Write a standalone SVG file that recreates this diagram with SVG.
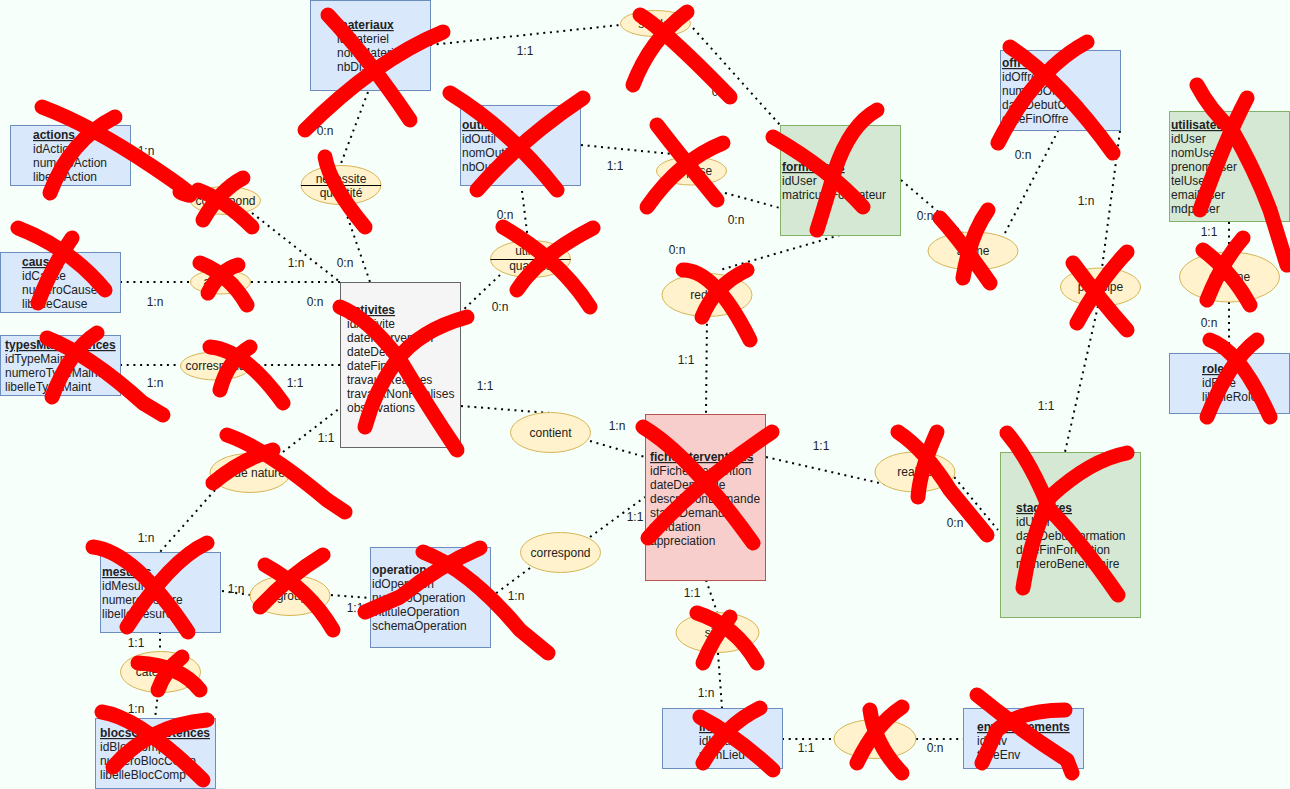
<svg xmlns="http://www.w3.org/2000/svg" width="1290" height="789" viewBox="0 0 1290 789">
<style>
.b{fill:#dae8fc;stroke:#6c8ebf;stroke-width:1}
.g{fill:#d5e8d4;stroke:#82b366;stroke-width:1}
.r{fill:#f8cecc;stroke:#b85450;stroke-width:1}
.k{fill:#f5f5f5;stroke:#666666;stroke-width:1}
.rel{fill:#fff2cc;stroke:#d6b656;stroke-width:1}
.c{stroke:#000;stroke-width:2;stroke-dasharray:2 4.7;fill:none}
text{font-family:"Liberation Sans",Arial,sans-serif;font-size:12px;fill:#222}
.tt{font-weight:bold;text-decoration:underline}
.tb{font-weight:bold}
.m{text-anchor:middle}
.x{stroke:#ff0000;stroke-width:15;fill:none;stroke-linecap:round;stroke-linejoin:round}
</style>
<rect width="1290" height="789" fill="#f6fffa"/>
<g id="connectors">
<path class="c" d="M430,45 L620,25"/>
<path class="c" d="M693,28 L780,125"/>
<path class="c" d="M368,92 L340,166"/>
<path class="c" d="M343,204 L370,282"/>
<path class="c" d="M131,152 L189,199"/>
<path class="c" d="M252,213 L340,282"/>
<path class="c" d="M120,282 L190,282"/>
<path class="c" d="M251,282 L340,282"/>
<path class="c" d="M120,365 L180,365"/>
<path class="c" d="M251,365 L340,365"/>
<path class="c" d="M283,452 L340,408"/>
<path class="c" d="M215,490 L160,552"/>
<path class="c" d="M522,191 L528,240"/>
<path class="c" d="M500,275 L461,312"/>
<path class="c" d="M581,145 L672,154"/>
<path class="c" d="M725,193 L780,208"/>
<path class="c" d="M840,235 L720,270"/>
<path class="c" d="M707,317 L706,414"/>
<path class="c" d="M461,406 L550,413"/>
<path class="c" d="M590,441 L645,457"/>
<path class="c" d="M590,537 L645,497"/>
<path class="c" d="M530,568 L491,597"/>
<path class="c" d="M222,591 L250,595"/>
<path class="c" d="M331,595 L370,598"/>
<path class="c" d="M160,632 L160,652"/>
<path class="c" d="M158,693 L155,719"/>
<path class="c" d="M706,580 L717,612"/>
<path class="c" d="M718,653 L722,708"/>
<path class="c" d="M782,739 L834,739"/>
<path class="c" d="M916,739 L963,739"/>
<path class="c" d="M901,180 L963,233"/>
<path class="c" d="M1005,233 L1058,131"/>
<path class="c" d="M1120,131 L1102,268"/>
<path class="c" d="M1098,306 L1065,452"/>
<path class="c" d="M766,457 L910,490"/>
<path class="c" d="M950,472 L998,530"/>
<path class="c" d="M1229,222 L1229,252"/>
<path class="c" d="M1229,302 L1229,353"/>
</g>
<g id="relations">
<g id="r-stocke"><ellipse class="rel" cx="655.5" cy="23.5" rx="35" ry="13"/><text class="m" x="655.5" y="27.5">stocke</text></g>
<g id="r-necessite"><ellipse class="rel" cx="341" cy="185" rx="40" ry="19.5"/><line x1="301" y1="185.5" x2="381" y2="185.5" stroke="#000"/><text class="m" x="341" y="183">necessite</text><text class="m" x="341" y="197">quantité</text></g>
<g id="r-correspond1"><ellipse class="rel" cx="225.5" cy="200.5" rx="35" ry="14"/><text class="m" x="225.5" y="204.5">correspond</text></g>
<g id="r-apour"><ellipse class="rel" cx="220.5" cy="282" rx="30" ry="12"/><text class="m" x="220.5" y="286">a pour</text></g>
<g id="r-correspond2"><ellipse class="rel" cx="215.5" cy="366" rx="35" ry="14"/><text class="m" x="215.5" y="370">correspond</text></g>
<g id="r-nature"><ellipse class="rel" cx="250" cy="473" rx="40" ry="19.5"/><text class="m" x="250" y="477">est de nature</text></g>
<g id="r-utilise"><ellipse class="rel" cx="530.5" cy="259" rx="40" ry="18.5"/><line x1="490.5" y1="259.5" x2="570.5" y2="259.5" stroke="#000"/><text class="m" x="530.5" y="255">utilise</text><text class="m" x="530.5" y="270">quantité</text></g>
<g id="r-dispose"><ellipse class="rel" cx="691.5" cy="171" rx="35" ry="14"/><text class="m" x="691.5" y="175">dispose</text></g>
<g id="r-redige"><ellipse class="rel" cx="707" cy="295" rx="45" ry="21.5"/><text class="m" x="707" y="299">redige</text></g>
<g id="r-contient"><ellipse class="rel" cx="550.5" cy="432.5" rx="40" ry="20"/><text class="m" x="550.5" y="436.5">contient</text></g>
<g id="r-correspond3"><ellipse class="rel" cx="560.5" cy="552.5" rx="40" ry="20"/><text class="m" x="560.5" y="556.5">correspond</text></g>
<g id="r-regroupe"><ellipse class="rel" cx="290" cy="595.5" rx="40" ry="20"/><text class="m" x="290" y="599.5">regroupe</text></g>
<g id="r-categorie"><ellipse class="rel" cx="160.5" cy="672" rx="40" ry="20.5"/><text class="m" x="160.5" y="676">categorie</text></g>
<g id="r-situe"><ellipse class="rel" cx="717.5" cy="632.5" rx="41.5" ry="20"/><text class="m" x="717.5" y="636.5">situe</text></g>
<g id="r-lieuenv"><ellipse class="rel" cx="875" cy="739" rx="41" ry="19.5"/></g>
<g id="r-anime"><ellipse class="rel" cx="973" cy="251" rx="45" ry="19"/><text class="m" x="973" y="255">anime</text></g>
<g id="r-participe"><ellipse class="rel" cx="1100.5" cy="287" rx="40" ry="19"/><text class="m" x="1100.5" y="291">participe</text></g>
<g id="r-realise"><ellipse class="rel" cx="915" cy="472" rx="40" ry="20"/><text class="m" x="915" y="476">realise</text></g>
<g id="r-assigne"><ellipse class="rel" cx="1229.5" cy="277" rx="50" ry="25"/><text class="m" x="1229.5" y="281">assigne</text></g>
</g>
<g id="e-materiaux"><rect class="b" x="310.5" y="0.5" width="120" height="90"/><text x="337" y="29" class="tt">materiaux</text><text x="337" y="43">idMateriel</text><text x="337" y="57">nomMateriel</text><text x="337" y="71">nbDispo</text></g>
<g id="e-actions"><rect class="b" x="10.5" y="125.5" width="120" height="60"/><text x="33" y="139" class="tt">actions</text><text x="33" y="153">idAction</text><text x="33" y="167">numeroAction</text><text x="33" y="181">libelleAction</text></g>
<g id="e-causes"><rect class="b" x="0.5" y="252.5" width="120" height="60"/><text x="22" y="266" class="tt">causes</text><text x="22" y="280">idCause</text><text x="22" y="294">numeroCause</text><text x="22" y="308">libelleCause</text></g>
<g id="e-types"><rect class="b" x="0.5" y="335.5" width="120" height="60"/><text x="5" y="349" class="tt">typesMaintenances</text><text x="5" y="363">idTypeMaint</text><text x="5" y="377">numeroTypeMaint</text><text x="5" y="391">libelleTypeMaint</text></g>
<g id="e-outils"><rect class="b" x="460.5" y="105.5" width="120" height="80"/><text x="462" y="129" class="tt">outils</text><text x="462" y="143">idOutil</text><text x="462" y="157">nomOutil</text><text x="462" y="171">nbOutil</text></g>
<g id="e-formateurs"><rect class="g" x="780.5" y="125.5" width="120" height="110"/><text x="782" y="171" class="tt">formateurs</text><text x="782" y="185">idUser</text><text x="782" y="199">matriculeFormateur</text></g>
<g id="e-offres"><rect class="b" x="1000.5" y="50.5" width="120" height="80"/><text x="1002" y="67" class="tt">offres</text><text x="1002" y="81">idOffre</text><text x="1002" y="95">numeroOffre</text><text x="1002" y="109">dateDebutOffre</text><text x="1002" y="123">dateFinOffre</text></g>
<g id="e-utilisateurs"><rect class="g" x="1169.5" y="111.5" width="120" height="110"/><text x="1171" y="129" class="tt">utilisateurs</text><text x="1171" y="143">idUser</text><text x="1171" y="157">nomUser</text><text x="1171" y="171">prenomUser</text><text x="1171" y="185">telUser</text><text x="1171" y="199">emailUser</text><text x="1171" y="213">mdpUser</text></g>
<g id="e-roles"><rect class="b" x="1169.5" y="353.5" width="120" height="60"/><text x="1202" y="373" class="tt">roles</text><text x="1202" y="387">idRole</text><text x="1202" y="401">libelleRole</text></g>
<g id="e-activites"><rect class="k" x="340.5" y="282.5" width="120" height="165"/><text x="347" y="314" class="tt">activites</text><text x="347" y="328">idActivite</text><text x="347" y="342">dateIntervention</text><text x="347" y="356">dateDebut</text><text x="347" y="370">dateFin</text><text x="347" y="384">travauxRealises</text><text x="347" y="398">travauxNonRealises</text><text x="347" y="412">observations</text></g>
<g id="e-fiche"><rect class="r" x="645.5" y="414.5" width="120" height="166"/><text x="650" y="461" class="tt">ficheInterventions</text><text x="650" y="475">idFicheIntervention</text><text x="650" y="489">dateDemande</text><text x="650" y="503">descriptionDemande</text><text x="650" y="517">statutDemande</text><text x="650" y="531">validation</text><text x="650" y="545">appreciation</text></g>
<g id="e-stagiaires"><rect class="g" x="1000.5" y="452.5" width="140" height="165"/><text x="1016" y="512" class="tt">stagiaires</text><text x="1016" y="526">idUser</text><text x="1016" y="540">dateDebutFormation</text><text x="1016" y="554">dateFinFormation</text><text x="1016" y="568">numeroBeneficiaire</text></g>
<g id="e-mesures"><rect class="b" x="100.5" y="552.5" width="120" height="80"/><text x="102" y="576" class="tt">mesures</text><text x="102" y="590">idMesure</text><text x="102" y="604">numeroMesure</text><text x="102" y="618">libelleMesure</text></g>
<g id="e-blocs"><rect class="b" x="95.5" y="718.5" width="120" height="70"/><text x="100" y="737" class="tt">blocsCompetences</text><text x="100" y="751">idBlocComp</text><text x="100" y="765">numeroBlocComp</text><text x="100" y="779">libelleBlocComp</text></g>
<g id="e-operations"><rect class="b" x="370.5" y="547.5" width="120" height="100"/><text x="372" y="574" class="tb">operations</text><text x="372" y="588">idOperation</text><text x="372" y="602">numeroOperation</text><text x="372" y="616">intituleOperation</text><text x="372" y="630">schemaOperation</text></g>
<g id="e-lieux"><rect class="b" x="662.5" y="708.5" width="120" height="60"/><text x="699" y="731" class="tt">lieux</text><text x="699" y="745">idLieu</text><text x="699" y="759">nomLieu</text></g>
<g id="e-environnements"><rect class="b" x="963.5" y="708.5" width="120" height="60"/><text x="977" y="731" class="tt">environnements</text><text x="977" y="745">idEnv</text><text x="977" y="759">typeEnv</text></g>
<g id="cardinalities">
<text class="m" x="525" y="55">1:1</text><text class="m" x="720" y="96">0:n</text>
<text class="m" x="325" y="135">0:n</text><text class="m" x="345" y="267">0:n</text>
<text class="m" x="146" y="155">1:n</text><text class="m" x="296" y="267">1:n</text>
<text class="m" x="155" y="306">1:n</text><text class="m" x="315" y="306">0:n</text>
<text class="m" x="155" y="387">1:n</text><text class="m" x="295" y="387">1:1</text>
<text class="m" x="326" y="442">1:1</text><text class="m" x="146" y="542">1:n</text>
<text class="m" x="505" y="219">0:n</text><text class="m" x="500" y="311">0:n</text>
<text class="m" x="615" y="170">1:1</text><text class="m" x="736" y="224">0:n</text>
<text class="m" x="677" y="254">0:n</text><text class="m" x="686" y="364">1:1</text>
<text class="m" x="485" y="390">1:1</text><text class="m" x="617" y="430">1:n</text>
<text class="m" x="635" y="521">1:1</text><text class="m" x="516" y="600">1:n</text>
<text class="m" x="236" y="593">1:n</text><text class="m" x="355" y="612">1:1</text>
<text class="m" x="136" y="647">1:1</text><text class="m" x="136" y="713">1:n</text>
<text class="m" x="692" y="597">1:1</text><text class="m" x="706" y="697">1:n</text>
<text class="m" x="806" y="752">1:1</text><text class="m" x="935" y="752">0:n</text>
<text class="m" x="925" y="220">0:n</text><text class="m" x="1023" y="159">0:n</text>
<text class="m" x="1086" y="205">1:n</text><text class="m" x="1046" y="410">1:1</text>
<text class="m" x="821" y="450">1:1</text><text class="m" x="955" y="527">0:n</text>
<text class="m" x="1209" y="236">1:1</text><text class="m" x="1209" y="327">0:n</text>
</g>
<g id="crosses">
<path class="x" d="M42,107 Q90,125 150,165 T180,192"/><path class="x" d="M115,117 Q70,140 50,193"/>
<path class="x" d="M203,220 Q220,190 243,178"/><path class="x" d="M198,190 Q225,200 252,227"/>
<path class="x" d="M18,228 Q70,248 105,290"/><path class="x" d="M72,238 Q50,270 38,303"/>
<path class="x" d="M200,263 Q230,275 247,305"/><path class="x" d="M238,265 Q220,270 208,293"/>
<path class="x" d="M47,338 Q90,355 143,403 L163,415"/><path class="x" d="M97,333 Q70,350 52,397"/>
<path class="x" d="M210,347 Q245,350 283,403"/><path class="x" d="M250,347 Q228,360 220,390"/>
<path class="x" d="M227,435 Q265,448 327,500 L345,512"/><path class="x" d="M273,450 Q240,460 213,483"/>
<path class="x" d="M93,547 Q135,552 188,632"/><path class="x" d="M207,543 Q170,560 127,627"/>
<path class="x" d="M265,565 Q310,590 333,630"/><path class="x" d="M323,555 Q290,575 260,607"/>
<path class="x" d="M138,663 Q180,665 200,690"/><path class="x" d="M182,657 Q165,670 158,690"/>
<path class="x" d="M102,712 Q140,718 203,780"/><path class="x" d="M207,720 Q150,725 113,767"/>
<path class="x" d="M328,15 Q370,60 410,120"/><path class="x" d="M443,32 Q375,60 305,130"/>
<path class="x" d="M325,157 Q330,185 365,227"/>
<path class="x" d="M450,93 Q510,130 557,190"/><path class="x" d="M583,98 Q520,140 477,190"/>
<path class="x" d="M503,227 Q560,260 590,307"/><path class="x" d="M593,228 Q540,255 517,290"/>
<path class="x" d="M340,307 Q368,318 400,360 Q430,410 457,450"/><path class="x" d="M467,317 Q420,330 397,360 Q375,390 365,427"/>
<path class="x" d="M640,15 Q665,30 730,97"/><path class="x" d="M687,12 Q650,40 633,85"/>
<path class="x" d="M657,125 Q680,155 717,200"/><path class="x" d="M723,143 Q680,160 647,207"/>
<path class="x" d="M773,137 Q830,170 863,207"/><path class="x" d="M877,110 Q850,125 835,170 Q825,205 817,230"/>
<path class="x" d="M683,270 Q715,270 750,340"/><path class="x" d="M747,270 Q715,285 702,317"/>
<path class="x" d="M643,427 Q690,455 753,543"/><path class="x" d="M772,432 Q700,480 648,538"/>
<path class="x" d="M898,432 Q925,450 950,490 L987,535"/><path class="x" d="M937,432 Q920,470 918,497"/>
<path class="x" d="M1010,47 Q1060,80 1113,153"/><path class="x" d="M1087,42 Q1035,70 998,143"/>
<path class="x" d="M1197,85 Q1210,110 1232,130 Q1255,170 1270,210 L1287,265"/><path class="x" d="M1247,98 Q1225,140 1200,210"/>
<path class="x" d="M940,218 Q960,240 990,283"/><path class="x" d="M988,210 Q970,235 963,278"/>
<path class="x" d="M1073,263 Q1100,300 1127,330"/><path class="x" d="M1127,252 Q1100,280 1077,323"/>
<path class="x" d="M1243,238 Q1222,262 1207,300"/><path class="x" d="M1203,250 Q1232,272 1250,305"/>
<path class="x" d="M1210,340 Q1240,350 1270,417"/><path class="x" d="M1257,340 Q1230,360 1207,417"/>
<path class="x" d="M1007,433 Q1030,460 1050,510 Q1080,540 1118,595"/><path class="x" d="M1127,453 Q1090,460 1050,497 Q1030,540 1023,588"/>
<path class="x" d="M423,552 Q470,570 520,630 L548,653"/><path class="x" d="M480,548 Q440,565 400,597 L365,612"/>
<path class="x" d="M697,613 Q735,625 757,663"/><path class="x" d="M730,617 Q712,640 703,663"/>
<path class="x" d="M700,717 Q735,735 773,770"/><path class="x" d="M760,708 Q725,725 703,763"/>
<path class="x" d="M870,710 Q875,745 902,773"/><path class="x" d="M902,707 Q875,725 857,763"/>
<path class="x" d="M977,695 Q1020,730 1067,760 L1072,773"/><path class="x" d="M1065,710 Q1020,710 997,730 L982,763"/>
</g>
</svg>
